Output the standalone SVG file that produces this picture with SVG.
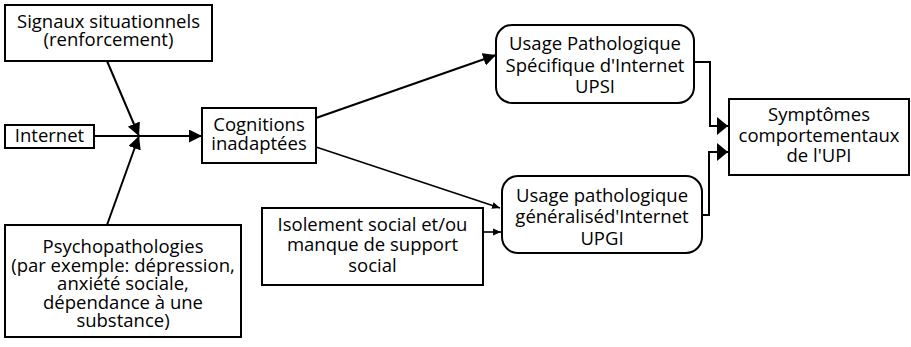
<svg xmlns="http://www.w3.org/2000/svg" width="911" height="347" viewBox="0 0 911 347">
<style>
  .box { fill: #ffffff; stroke: #000000; stroke-width: 2; }
  .lbl { font-family: "Open Sans", "Noto Sans", "DejaVu Sans", sans-serif; font-size: 18.5px; fill: #000000; text-anchor: middle; }
  .conn { fill: none; stroke: #000000; stroke-width: 2; }
  .thin { fill: none; stroke: #000000; stroke-width: 1.6; }
</style>
<defs>
  <marker id="big" markerUnits="userSpaceOnUse" markerWidth="13" markerHeight="13" refX="13" refY="6.5" orient="auto">
    <path d="M0,0 L13,6.5 L0,13 z" fill="#000000"/>
  </marker>
  <marker id="tall" markerUnits="userSpaceOnUse" markerWidth="11" markerHeight="18" refX="11" refY="9" orient="auto">
    <path d="M0,0 L11,9 L0,18 z" fill="#000000"/>
  </marker>
  <marker id="small" markerUnits="userSpaceOnUse" markerWidth="8" markerHeight="8" refX="8" refY="4" orient="auto">
    <path d="M0,0.5 L8,4 L0,7.5 z" fill="#000000"/>
  </marker>
</defs>
<rect width="911" height="347" fill="#ffffff"/>

<g id="connectors">
  <line class="conn" x1="107" y1="61" x2="139" y2="136" marker-end="url(#big)"/>
  <line class="conn" x1="107" y1="225" x2="139" y2="136" marker-end="url(#big)"/>
  <line class="conn" x1="94" y1="136" x2="202" y2="136" marker-end="url(#big)"/>
  <line class="conn" x1="316" y1="118" x2="496" y2="55" marker-end="url(#big)"/>
  <line class="thin" x1="316" y1="147" x2="500" y2="208" marker-end="url(#small)"/>
  <line class="thin" x1="483" y1="232" x2="501" y2="232" marker-end="url(#small)"/>
  <polyline class="conn" points="694,62 710,62 710,126 728,126" marker-end="url(#tall)"/>
  <polyline class="conn" points="702,215 709,215 709,152 728,152" marker-end="url(#tall)"/>
</g>

<g id="signaux">
  <rect class="box" x="5" y="5" width="207" height="56"/>
  <text class="lbl"><tspan x="108.5" y="28">Signaux situationnels</tspan><tspan x="108.5" y="46">(renforcement)</tspan></text>
</g>

<g id="internet">
  <rect class="box" x="5" y="125" width="89" height="23"/>
  <text class="lbl" x="49.5" y="142">Internet</text>
</g>

<g id="psychopathologies">
  <rect class="box" x="5" y="225" width="236" height="112"/>
  <text class="lbl"><tspan x="123" y="253">Psychopathologies</tspan><tspan x="123" y="272">(par exemple: dépression,</tspan><tspan x="123" y="290">anxiété sociale,</tspan><tspan x="123" y="309">dépendance à une</tspan><tspan x="123" y="327">substance)</tspan></text>
</g>

<g id="cognitions">
  <rect class="box" x="202" y="108" width="114" height="55"/>
  <text class="lbl"><tspan x="259" y="131">Cognitions</tspan><tspan x="259" y="150">inadaptées</tspan></text>
</g>

<g id="isolement">
  <rect class="box" x="262" y="208" width="221" height="77"/>
  <text class="lbl"><tspan x="372.5" y="231">Isolement social et/ou</tspan><tspan x="372.5" y="251">manque de support</tspan><tspan x="372.5" y="272">social</tspan></text>
</g>

<g id="upsi">
  <rect class="box" x="496" y="25" width="198" height="78" rx="16" ry="16"/>
  <text class="lbl"><tspan x="595" y="50">Usage Pathologique</tspan><tspan x="595" y="72">Spécifique d'Internet</tspan><tspan x="595" y="93">UPSI</tspan></text>
</g>

<g id="upgi">
  <rect class="box" x="502" y="176" width="200" height="77" rx="16" ry="16"/>
  <text class="lbl"><tspan x="602" y="202">Usage pathologique</tspan><tspan x="602" y="223">généraliséd'Internet</tspan><tspan x="602" y="245">UPGI</tspan></text>
</g>

<g id="symptomes">
  <rect class="box" x="729" y="99" width="180" height="76"/>
  <text class="lbl"><tspan x="819" y="121">Symptômes</tspan><tspan x="819" y="142">comportementaux</tspan><tspan x="819" y="162">de l'UPI</tspan></text>
</g>
</svg>
